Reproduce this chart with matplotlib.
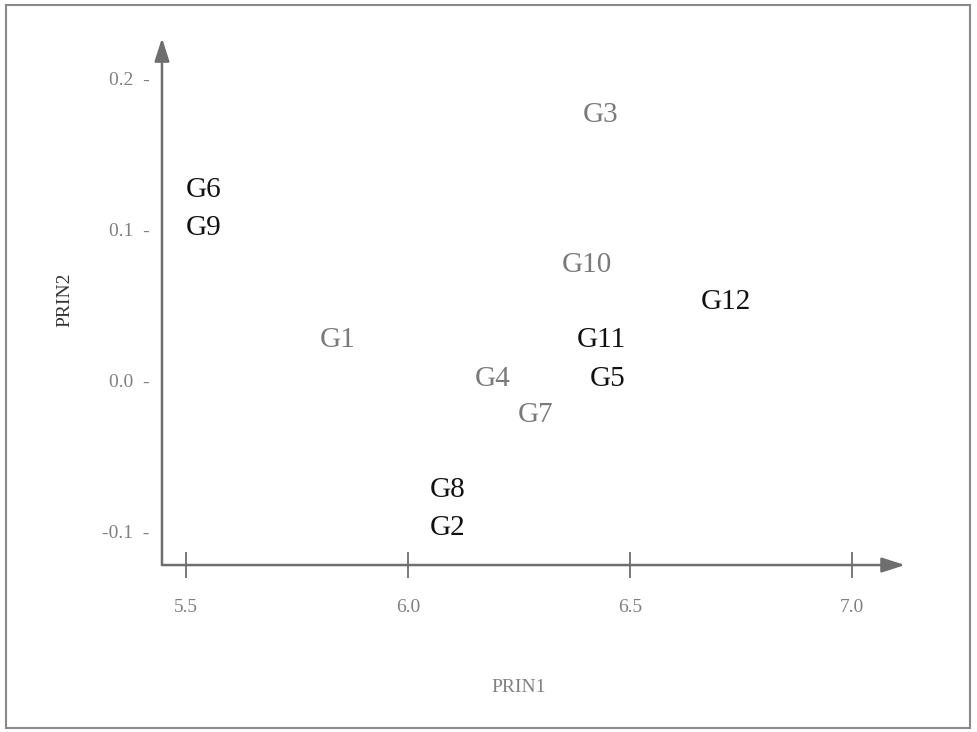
import matplotlib

matplotlib.use("Agg")
import matplotlib.pyplot as plt
from matplotlib.patches import Rectangle

# label positions (centre of each label)
names = ["G1", "G2", "G3", "G4", "G5", "G6", "G7", "G8", "G9", "G10", "G11", "G12"]
prin1 = [5.842, 6.09, 6.435, 6.191, 6.450, 5.54, 6.288, 6.09, 5.54, 6.403, 6.435, 6.716]
prin2 = [0.0265, -0.098, 0.1755, 0.001, 0.001, 0.126, -0.023, -0.073, 0.1007, 0.076, 0.0265, 0.052]
faded = ["G1", "G3", "G4", "G7", "G10"]

x_ticks = [5.5, 6.0, 6.5, 7.0]
y_ticks = [-0.1, 0.0, 0.1, 0.2]

plt.rcParams["font.family"] = ["Liberation Serif", "DejaVu Serif"]

fig = plt.figure(figsize=(9.77, 7.32), dpi=100)
ax = fig.add_axes([0.1658, 0.2281, 0.7605, 0.7199])
ax.set_xlim(5.446, 7.12)
ax.set_ylim(-0.1225, 0.2265)
ax.patch.set_alpha(0)
for side in ax.spines.values():
    side.set_visible(False)

axis_color = "#6e6e6e"
ax.annotate("", xy=(1, 0), xytext=(0, 0), xycoords="axes fraction",
            arrowprops=dict(arrowstyle="-|>,head_length=1.4,head_width=0.45",
                            color=axis_color, lw=1.8, shrinkA=0, shrinkB=0))
ax.annotate("", xy=(0, 1), xytext=(0, 0), xycoords="axes fraction",
            arrowprops=dict(arrowstyle="-|>,head_length=1.4,head_width=0.45",
                            color=axis_color, lw=1.8, shrinkA=0, shrinkB=0))

ax.set_xticks(x_ticks)
ax.set_xticklabels([f"{v:.1f}" for v in x_ticks])
ax.tick_params(axis="x", direction="inout", length=19, width=1.3, color=axis_color,
               pad=15, labelsize=14, labelcolor="#808080")
ax.set_yticks(y_ticks)
ax.set_yticklabels([f"{v:.1f}  -" for v in y_ticks])
ax.tick_params(axis="y", length=0, pad=9, labelsize=14, labelcolor="#808080")

for name, x, y in zip(names, prin1, prin2):
    ax.text(x, y, name, ha="center", va="center", fontsize=21,
            color="#7a7a7a" if name in faded else "#111111")

fig.text(519 / 977, 1 - 688 / 732, "PRIN1", ha="center", va="center",
         fontsize=14, color="#808080")
fig.text(65 / 977, 1 - 300 / 732, "PRIN2", ha="center", va="center",
         fontsize=14, color="#333333", rotation=90)

fig.add_artist(Rectangle((6 / 977, 4 / 732), 964 / 977, 723 / 732,
                         transform=fig.transFigure, fill=False,
                         edgecolor="#8a8a8a", lw=1.5))

fig.savefig("out.png")
